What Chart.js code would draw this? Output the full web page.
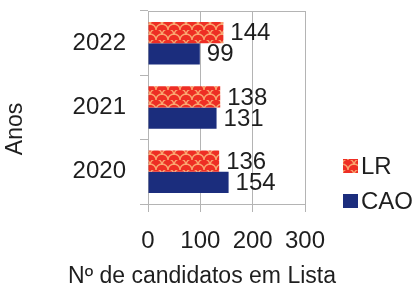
<!DOCTYPE html>
<html>
<head>
<meta charset="utf-8">
<script src="https://cdn.jsdelivr.net/npm/chart.js@4/dist/chart.umd.min.js"></script>
<style>
  body { margin: 0; background: #fff; }
  #wrap { width: 419px; height: 289px; }
</style>
</head>
<body>
<div id="wrap"><canvas id="barChart" width="419" height="289"></canvas></div>
<script>
"use strict";
// data
const years = ["2022", "2021", "2020"];
const lrValues = [144, 138, 136];
const caoValues = [99, 131, 154];
const seriesNames = ["LR", "CAO"];
const xTicks = [0, 100, 200, 300];
const xTitle = "Nº de candidatos em Lista";
const yTitle = "Anos";

const FONT = "'Liberation Sans', Arial, sans-serif";
const GRID = "#b4b4b4";
const TEXT = "#1e1e1e";

// red fill with the light scale-like hatch
const makeHatch = () => {
  const c = document.createElement("canvas");
  c.width = 12;
  c.height = 10;
  const g = c.getContext("2d");
  g.fillStyle = "#ee2e24";
  g.fillRect(0, 0, 12, 10);
  g.strokeStyle = "rgba(250, 170, 115, 0.95)";
  g.lineWidth = 1.4;
  g.beginPath();
  g.arc(6, 10, 6, Math.PI, 2 * Math.PI);
  g.stroke();
  g.beginPath();
  g.arc(0, 5, 6, 1.5 * Math.PI, 2 * Math.PI);
  g.stroke();
  g.beginPath();
  g.arc(12, 5, 6, Math.PI, 1.5 * Math.PI);
  g.stroke();
  return g.createPattern(c, "repeat");
};

const ctx = document.getElementById("barChart").getContext("2d");
const hatch = makeHatch();
const fills = [hatch, "#1b2d7d"];

// values next to the bar ends
const valueLabels = {
  id: "valueLabels",
  afterDatasetsDraw(chart) {
    const c = chart.ctx;
    c.save();
    c.font = "24px " + FONT;
    c.fillStyle = TEXT;
    c.textAlign = "left";
    c.textBaseline = "middle";
    chart.data.datasets.forEach((ds, i) => {
      chart.getDatasetMeta(i).data.forEach((bar, j) => {
        c.fillText(String(ds.data[j]), bar.x + 7, bar.y + 1);
      });
    });
    c.restore();
  },
};

// top frame line, axis titles (placed like the original) and legend on the right
const frameAndLegend = {
  id: "frameAndLegend",
  afterDraw(chart) {
    const c = chart.ctx;
    const a = chart.chartArea;
    c.save();
    c.strokeStyle = GRID;
    c.lineWidth = 1;
    c.beginPath();
    c.moveTo(a.left, a.top + 0.5);
    c.lineTo(a.right, a.top + 0.5);
    c.stroke();

    c.fillStyle = TEXT;
    c.font = "23px " + FONT;
    c.textAlign = "center";
    c.textBaseline = "middle";
    c.fillText(xTitle, 202, 277);

    c.save();
    c.translate(16, 129);
    c.rotate(-Math.PI / 2);
    c.fillText(yTitle, 0, 0);
    c.restore();

    c.font = "24px " + FONT;
    c.textAlign = "left";
    chart.data.datasets.forEach((ds, i) => {
      const y = 166 + i * 35;
      c.fillStyle = ds.backgroundColor;
      c.fillRect(343, y - 7, 15, 14);
      c.fillStyle = TEXT;
      c.fillText(ds.label, 361, y + 1);
    });
    c.restore();
  },
};

new Chart(ctx, {
  type: "bar",
  data: {
    labels: years,
    datasets: [
      {
        label: seriesNames[0],
        data: lrValues,
        backgroundColor: fills[0],
        borderWidth: 0,
      },
      {
        label: seriesNames[1],
        data: caoValues,
        backgroundColor: fills[1],
        borderWidth: 0,
      },
    ],
  },
  options: {
    indexAxis: "y",
    responsive: false,
    animation: false,
    categoryPercentage: 0.66,
    barPercentage: 1,
    layout: { padding: { top: 11, right: 114, left: 0, bottom: 0 } },
    plugins: {
      legend: { display: false },
      tooltip: { enabled: false },
    },
    scales: {
      x: {
        min: 0,
        max: 300,
        afterBuildTicks: (scale) => {
          scale.ticks = xTicks.map((v) => ({ value: v }));
        },
        afterFit: (scale) => {
          scale.height = 85;
        },
        grid: { color: GRID, tickLength: 8, tickColor: GRID },
        border: { color: GRID },
        ticks: { color: TEXT, padding: 15, font: { family: FONT, size: 24 } },
      },
      y: {
        afterFit: (scale) => {
          scale.width = 148;
          scale.paddingTop = 0;
          scale.paddingBottom = 0;
        },
        grid: { drawOnChartArea: false, color: GRID, tickLength: 8 },
        border: { color: GRID },
        ticks: { color: TEXT, padding: 14, font: { family: FONT, size: 24 } },
      },
    },
  },
  plugins: [valueLabels, frameAndLegend],
});
</script>
</body>
</html>
